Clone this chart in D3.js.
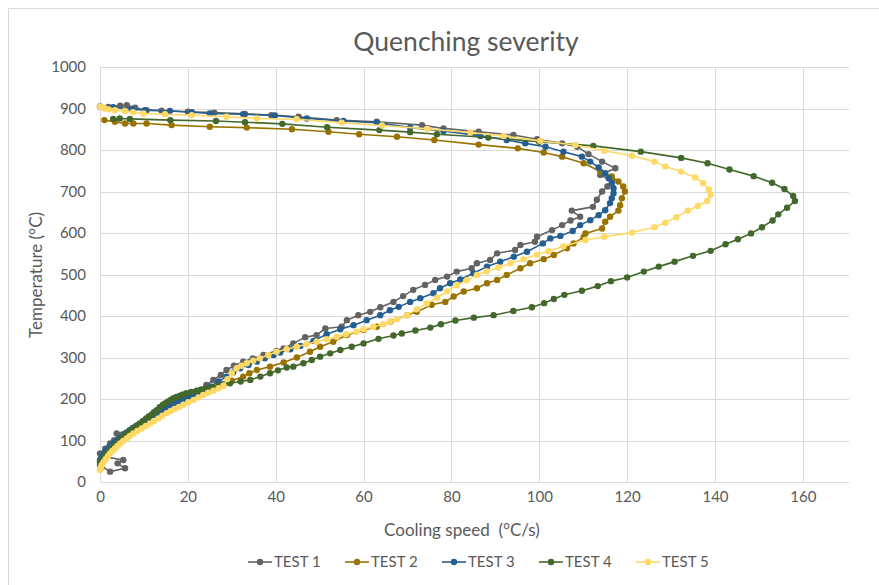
<!DOCTYPE html>
<html>
<head>
<meta charset="utf-8">
<script src="https://cdn.jsdelivr.net/npm/d3@7"></script>
<style>
  body { margin: 0; background: #fff; }
  svg { display: block; font-family: Lato, "Open Sans", sans-serif; }
</style>
</head>
<body>
<svg id="chart" width="879" height="585"></svg>
<script>
// [cooling speed °C/s, temperature °C]
const test1 = [[0,905],[1.9,904],[4.6,907],[6.1,908],[8,902],[10.6,896],[14,895],[20,892],[26,890],[33,887],[39,884],[45.2,880],[53.9,872],[63,868],[73.3,860],[78.2,852],[86.2,844],[94.1,836],[99.5,826],[105.2,816],[108.6,808],[111.2,790],[114.3,772],[117.3,756],[113.9,740],[116.5,726],[115.5,712],[114.3,700],[113.1,680],[112.2,663],[107.4,654],[109.3,639],[107.1,630],[105.2,619],[102.9,607],[99.5,591],[99,579],[95.7,571],[94.5,559],[90.4,551],[88.8,535],[85.8,527],[84.6,515],[81.2,507],[79,495],[76.3,487],[74,475],[71.3,463],[69,448],[66.8,434],[63.8,421],[61.5,410],[58.8,402],[56.2,390],[55,374],[51.3,370],[49.3,354],[46.7,349],[44,334],[41.8,322],[40.2,316],[37.2,306],[34.8,298],[32.6,290],[30.5,280],[28.8,270],[27.5,258],[25.8,246],[24.2,234],[22.8,222],[21,216],[19.7,210],[18,200],[16.7,190],[15.6,184],[14.8,178],[13.8,172],[12.9,166],[11.4,153],[10.6,147],[9.9,141],[8.3,133],[7.4,129],[6.8,125],[3.8,117],[4.5,108],[3.2,100],[2.3,93],[1.2,80],[0,69],[1.5,60],[5.3,53],[4,45],[5.7,33],[2.3,25],[0,41]];

const test2 = [[1,872],[3.4,868],[5.7,864],[7.6,864],[10.6,864],[16.3,860],[25,856],[33.4,854],[43.7,850],[52,844],[59,838],[67.6,832],[76.1,824],[86.2,813],[95.1,804],[101,794],[105.2,784],[110.1,768],[113.9,748],[116.5,736],[118,724],[119.1,712],[119.5,700],[118.8,684],[118.4,667],[118,654],[116.1,639],[115,627],[114.3,611],[110.5,599],[110.1,590],[107.8,575],[106.3,563],[103.3,547],[101,537],[97.9,527],[95.7,515],[92.6,499],[90.4,487],[88.1,479],[85.8,467],[82.8,459],[80.5,447],[78.6,434],[75.5,427],[72.1,410],[69.9,402],[66.1,386],[63,374],[60,366],[56.2,354],[53.1,338],[50.1,326],[47.8,314],[44.8,300],[41.8,288],[38.7,278],[35.7,270],[34,262],[32.6,254],[30,244],[28,235],[27,230],[26,226],[25,222],[24,218],[23,213],[22,209],[21,204],[20,200],[19,195],[18,190],[17,185],[16,180],[15,175],[14,170],[13,165],[12,160],[11.2,155],[10.5,150],[9.8,145],[9,140],[8.2,135],[7.5,129],[6.7,123],[6,118],[5.4,113],[4.8,108],[4.4,103],[4,98],[3.5,92],[3,87],[2.5,81],[2,75],[1.5,65],[1,55],[0.5,45],[0.3,35]];

const test3 = [[0,905],[3,903],[7.2,899],[10.2,896],[15.9,894],[20.9,891],[25,888],[32.6,886],[39.8,883],[47.1,876],[55.4,870],[63,866],[70.6,854],[78.2,846],[86.6,834],[92.6,824],[96.8,816],[101.4,808],[105.5,796],[109.7,784],[111.6,772],[113.5,758],[115,744],[115.8,732],[116.5,720],[116.9,708],[116.9,696],[116.5,684],[116.1,672],[115,655],[113.5,643],[111.6,631],[109.3,619],[107.6,605],[104.8,593],[102.5,587],[100.8,575],[97.2,555],[94.2,543],[91.1,531],[88.1,519],[85,503],[82,488],[79.7,479],[77.4,467],[75.9,455],[72.9,443],[70.6,434],[68,422],[66,414],[63.8,402],[60.7,390],[57.7,378],[54.7,368],[51.6,356],[48.6,340],[45.6,328],[43.3,320],[41,312],[39.5,306],[37.5,298],[35.7,290],[33.8,282],[31.9,274],[30.3,264],[28.8,254],[27,242],[25.1,230],[24.2,226],[23.5,222],[22.8,218],[22,214],[21.2,210],[20.5,206],[19.7,202],[19,198],[18.2,194],[17.5,190],[16.7,186],[15.9,181],[15.1,178],[14.4,174],[13.6,170],[12.9,166],[12.1,161],[11.4,156],[10.6,151],[9.9,145],[9.1,140],[8.3,135],[7.5,130],[6.8,125],[6,119],[5.3,113],[4.5,107],[3.8,101],[3.2,95],[2.6,89],[2,83],[1.5,77],[1.1,71],[0.7,65],[0.3,59],[0,53]];

const test4 = [[3,875],[4.5,876],[6.8,875],[16,872],[26.4,870],[33,867],[41.5,863],[51.7,855],[63.6,848],[70.6,843],[76.7,838],[88.4,830],[100,820],[112.3,810],[123.1,796],[132.3,781],[138.3,768],[143.3,753],[148.8,737],[153,721],[155.8,706],[157.8,689],[158.2,677],[156.4,661],[154.4,645],[153.1,630],[150.7,614],[148.2,599],[145.2,585],[142.4,573],[139,557],[135,545],[130.8,531],[127.2,519],[123.8,507],[120,493],[116.3,484],[113.3,472],[109.7,461],[105.7,451],[103.3,441],[101.1,431],[98.3,421],[94.1,412],[89.6,402],[85.1,396],[80.9,389],[77.6,380],[75.2,372],[71.8,365],[68.7,358],[66.8,353],[63.4,345],[60,334],[57.3,326],[54.7,318],[52.4,310],[50.1,302],[48.2,294],[46.3,286],[44,278],[42.5,276],[40.5,269],[38.7,262],[36.5,254],[34.2,246],[32,242],[29.6,238],[28.2,235],[27,232],[25.6,229],[24.3,226],[23.1,223],[22,220],[20.8,217],[19.7,214],[18.9,211],[18.2,208],[17.4,205],[16.7,202],[16.1,198],[15.5,194],[14.9,190],[14.3,186],[13.6,180],[12.9,173],[12.3,168],[11.8,163],[11.1,158],[10.5,153],[9.8,147],[9.1,141],[8.5,136],[8,132],[7.5,128],[7,124],[6.5,120],[6.1,116],[5.5,111],[5,106],[4.5,101],[4,96],[3.5,90],[3,85],[2.5,79],[2,74],[1.6,69],[1.2,64],[0.8,59],[0.5,55],[0,48]];

const test5 = [[0,905],[0.5,903],[1.1,900],[2,898],[3.4,896],[5.7,894],[7.5,891],[9.9,888],[14.8,886],[20.9,884],[28.8,880],[35.7,876],[44.8,874],[55,866],[64.2,859],[74.5,851],[84.3,842],[91.9,834],[100.2,822],[108.2,812],[114.8,798],[121.1,786],[126.2,772],[128.7,760],[132.3,748],[135.5,734],[137.3,720],[138.6,705],[139,692],[138.2,677],[136.1,665],[133.8,654],[131.2,638],[128.7,625],[126.2,614],[121.1,601],[114.8,591],[110.5,583],[105.5,568],[102.1,556],[99.5,548],[96.4,537],[93.4,527],[90.7,517],[88,508],[85.8,499],[83.5,486],[81.2,474],[79,459],[76.7,444],[74.4,430],[72.1,416],[69.9,402],[67.6,392],[66,386],[64.5,380],[62.2,374],[60,368],[58.4,362],[56,356],[53.9,350],[51.6,344],[49.3,338],[47,332],[44.8,326],[42.5,320],[40.2,314],[38.3,306],[36.4,298],[34.9,292],[33.4,286],[32.2,280],[31.1,274],[30,262],[29,248],[28.1,232],[27,226],[25.8,220],[24.6,215],[23.5,210],[22.4,204],[21.3,198],[20.1,192],[19,186],[18,181],[17,176],[16.1,171],[15.2,166],[14.2,160],[13.3,153],[12.3,147],[11.4,141],[10.4,135],[9.5,129],[8.5,123],[7.6,117],[6.8,111],[6.1,105],[5.3,99],[4.6,93],[4,87],[3.4,81],[2.8,75],[2.3,69],[1.8,62],[1.3,55],[0.8,48],[0.4,41],[0.2,35],[0,29]];

const seriesNames = ['TEST 1', 'TEST 2', 'TEST 3', 'TEST 4', 'TEST 5'];
const seriesColors = ['#636363', '#997300', '#255e91', '#43682b', '#ffd966'];
const xTicks = [0, 20, 40, 60, 80, 100, 120, 140, 160];
const yTicks = [0, 100, 200, 300, 400, 500, 600, 700, 800, 900, 1000];

const series = [test1, test2, test3, test4, test5];

const svg = d3.select('#chart');
const textColor = '#595959';
const gridColor = '#d9d9d9';

// chart area border
svg.append('path')
  .attr('d', 'M8.5,585 V8.5 H879')
  .attr('fill', 'none')
  .attr('stroke', gridColor);

const x = d3.scaleLinear().domain([0, 170.5]).range([100, 849]);
const y = d3.scaleLinear().domain([0, 1000]).range([482, 67]);

// grid
svg.append('g')
  .selectAll('line')
  .data(yTicks)
  .join('line')
  .attr('x1', x(0)).attr('x2', x(170.5))
  .attr('y1', d => Math.round(y(d)) + 0.5)
  .attr('y2', d => Math.round(y(d)) + 0.5)
  .attr('stroke', gridColor);

svg.append('g')
  .selectAll('line')
  .data(xTicks)
  .join('line')
  .attr('x1', d => Math.round(x(d)) + 0.5)
  .attr('x2', d => Math.round(x(d)) + 0.5)
  .attr('y1', y(0)).attr('y2', y(1000))
  .attr('stroke', gridColor);

// axes (labels only, Excel style)
const xAxis = svg.append('g')
  .attr('transform', `translate(0,${y(0)})`)
  .call(d3.axisBottom(x).tickValues(xTicks).tickSize(0).tickPadding(9));
xAxis.select('.domain').remove();
xAxis.selectAll('text')
  .attr('fill', textColor)
  .style('font-size', '15px')
  .style('font-family', 'Lato, sans-serif');

const yAxis = svg.append('g')
  .attr('transform', `translate(${x(0)},0)`)
  .call(d3.axisLeft(y).tickValues(yTicks).tickFormat(d3.format('d')).tickSize(0).tickPadding(14));
yAxis.select('.domain').remove();
yAxis.selectAll('text')
  .attr('fill', textColor)
  .style('font-size', '15px')
  .style('font-family', 'Lato, sans-serif');

// series
const line = d3.line()
  .x(d => x(d[0]))
  .y(d => y(d[1]));

series.forEach((data, i) => {
  const g = svg.append('g');
  g.append('path')
    .datum(data)
    .attr('d', line)
    .attr('fill', 'none')
    .attr('stroke', seriesColors[i])
    .attr('stroke-width', 1.6)
    .attr('stroke-linejoin', 'round');
  g.selectAll('circle')
    .data(data)
    .join('circle')
    .attr('cx', d => x(d[0]))
    .attr('cy', d => y(d[1]))
    .attr('r', 3.2)
    .attr('fill', seriesColors[i]);
});

// titles
svg.append('text')
  .attr('x', 466)
  .attr('y', 51)
  .attr('text-anchor', 'middle')
  .attr('fill', textColor)
  .style('font-size', '26.5px')
  .text('Quenching severity');

svg.append('text')
  .attr('x', 462)
  .attr('y', 536)
  .attr('text-anchor', 'middle')
  .attr('fill', textColor)
  .style('font-size', '17px')
  .style('white-space', 'pre')
  .text('Cooling speed  (°C/s)');

svg.append('text')
  .attr('transform', 'translate(42,275) rotate(-90)')
  .attr('text-anchor', 'middle')
  .attr('fill', textColor)
  .style('font-size', '17px')
  .text('Temperature (°C)');

// legend
const legend = svg.append('g')
  .selectAll('g')
  .data(seriesNames)
  .join('g')
  .attr('transform', (d, i) => `translate(${248 + i * 97},562)`);

legend.append('line')
  .attr('x1', 0).attr('x2', 24)
  .attr('stroke', (d, i) => seriesColors[i])
  .attr('stroke-width', 1.6);
legend.append('circle')
  .attr('cx', 12).attr('r', 3.2)
  .attr('fill', (d, i) => seriesColors[i]);
legend.append('text')
  .attr('x', 26)
  .attr('dy', '0.36em')
  .attr('fill', textColor)
  .style('font-size', '15px')
  .text(d => d);
</script>
</body>
</html>
